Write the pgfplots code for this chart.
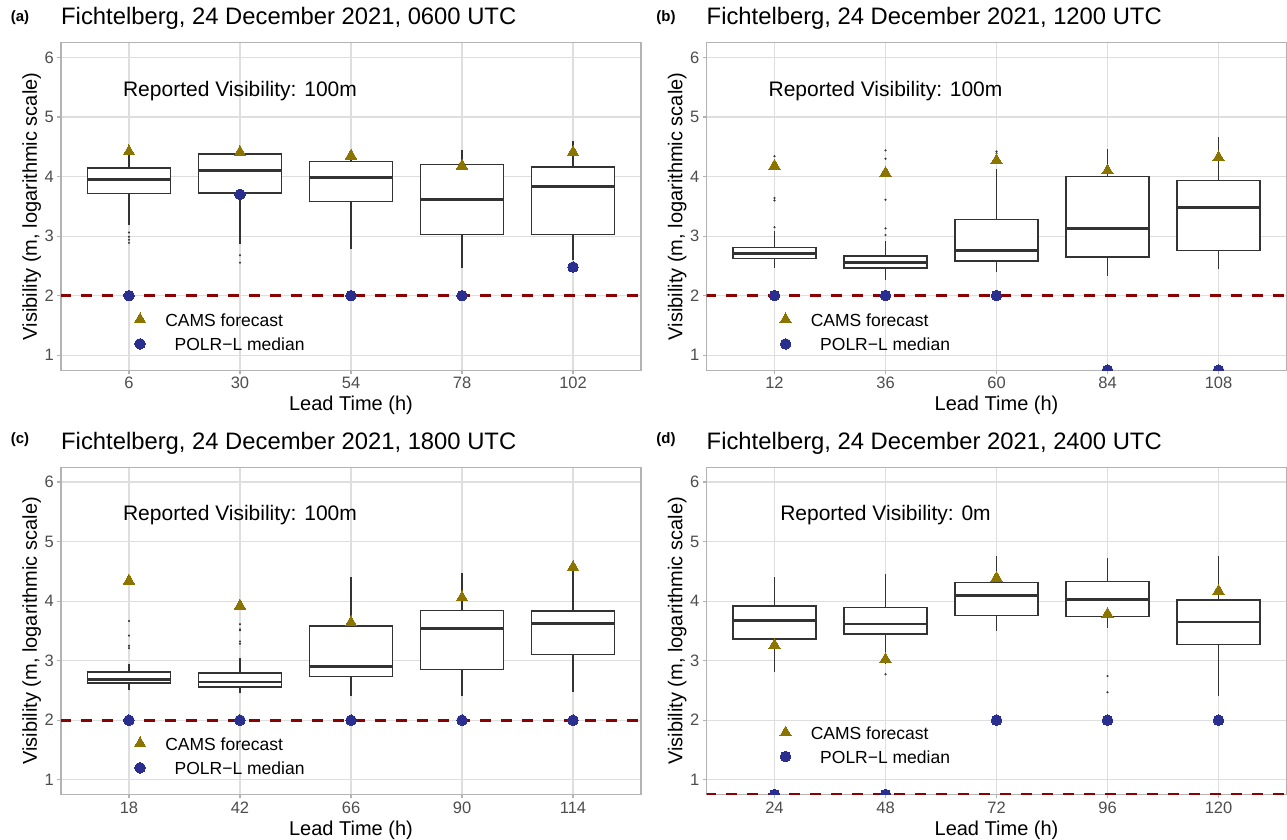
\documentclass[border=0pt]{standalone}
\usepackage{pgfplots}
\pgfplotsset{compat=1.18}
\usepgfplotslibrary{statistics}
\usepackage{fontspec}
\setmainfont{Liberation Sans}
\definecolor{camsc}{HTML}{8B7500}
\definecolor{polrc}{RGB}{42,46,142}
\definecolor{reflc}{HTML}{8B0000}
\definecolor{boxc}{HTML}{333333}
\definecolor{gridc}{HTML}{DEDEDE}
\definecolor{framec}{HTML}{B3B3B3}
\definecolor{tickc}{HTML}{4D4D4D}

\pgfplotsset{
 panel/.style={
  scale only axis, width=580pt, height=327.5pt,
  xmin=-0.6125, xmax=4.6125, ymin=0.75, ymax=6.25,
  xtick={0,1,2,3,4}, ytick={1,2,3,4,5,6}, yticklabels={1,2,3,4,5,6},
  tick align=outside, xtick pos=bottom, ytick pos=left,
  major tick length=3.7pt,
  tick style={framec, line width=1.1pt},
  xmajorgrids, ymajorgrids,
  grid style={gridc, line width=1.1pt},
  axis line style={framec, line width=1.1pt},
  ticklabel style={font=\fontsize{16.5}{18}\selectfont, text=tickc},
  label style={font=\fontsize{20}{22}\selectfont},
  xlabel={Lead Time (h)}, ylabel={Visibility (m, logarithmic scale)},
  xlabel style={at={(axis description cs:0.5,0)}, anchor=base, yshift=-40.5pt},
  ylabel style={at={(axis description cs:-0.0414,0.5)}, anchor=base},
  title style={at={(axis description cs:0,1)}, anchor=base west, yshift=12pt, font=\fontsize{23.8}{26}\selectfont, inner sep=0pt},
  clip marker paths=true,
  anchor=south west,
 },
 bxs/.style={draw=boxc, fill=white, line width=1.3pt, solid, mark=*, mark size=0.9pt,
   mark options={fill=boxc, draw=boxc, line width=0.3pt},
   boxplot/draw direction=y,
   boxplot/box extend=0.75, boxplot/whisker extend=0,
   boxplot/every box/.style={draw=boxc, fill=white, line width=1.5pt},
   boxplot/every whisker/.style={draw=boxc, line width=1.2pt},
   boxplot/every median/.style={draw=boxc, line width=2.8pt}},
 refline/.style={reflc, line width=3.2pt, dash pattern=on 11pt off 10pt},
 cams/.style={only marks, mark=triangle*, mark size=6.6pt, mark options={fill=camsc, draw=camsc, line width=0pt}},
 polr/.style={only marks, mark=*, mark size=5.3pt, mark options={fill=polrc, draw=polrc, line width=0pt}},
}
\newcommand{\bx}[7]{\addplot[bxs, boxplot prepared={draw position=#1, median=#2, lower quartile=#3, upper quartile=#4, lower whisker=#5, upper whisker=#6}] coordinates {#7};}
\newcommand{\annot}[1]{\node[font=\fontsize{21}{23}\selectfont, anchor=base, inner sep=0pt] at (axis cs:1,5.35) {#1};}
\newcommand{\legendtxt}[2]{%
  \node[font=\fontsize{17.5}{19}\selectfont, anchor=base west, inner sep=0pt] at (axis cs:0.325,#1) {CAMS forecast};
  \node[font=\fontsize{17.5}{19}\selectfont, anchor=base west, inner sep=0pt] at (axis cs:0.41,#2) {POLR−L median};}

\begin{document}
\begin{tikzpicture}
\path[use as bounding box] (0,0) rectangle (1287pt,839pt);

% (a)
\begin{axis}[panel, at={(61pt,468.9pt)}, xticklabels={6,30,54,78,102},
  title={Fichtelberg, 24 December 2021, 0600 UTC}]
\addplot[refline] coordinates {(-1,2) (5,2)};
\bx{0}{3.955}{3.714}{4.14}{3.19}{4.38}{(0,3.06) (0,2.99) (0,2.94) (0,2.89)}
\bx{1}{4.106}{3.725}{4.375}{2.86}{4.42}{(1,2.68) (1,2.555)}
\bx{2}{3.99}{3.585}{4.25}{2.78}{4.45}{}
\bx{3}{3.62}{3.03}{4.20}{2.47}{4.44}{}
\bx{4}{3.83}{3.03}{4.16}{2.60}{4.59}{}
\addplot[polr] coordinates {(0,2.0) (1,3.70) (2,2.0) (3,2.0) (4,2.48)};
\addplot[cams] coordinates {(0,4.42) (1,4.41) (2,4.35) (3,4.18) (4,4.41)};
\addplot[cams] coordinates {(0.1,1.60)};
\addplot[polr] coordinates {(0.1,1.19)};
\legendtxt{1.48}{1.075}
\annot{Reported Visibility: 100m}
\end{axis}

% (b)
\begin{axis}[panel, at={(706.5pt,468.9pt)}, xticklabels={12,36,60,84,108},
  title={Fichtelberg, 24 December 2021, 1200 UTC}]
\addplot[refline] coordinates {(-1,2) (5,2)};
\bx{0}{2.706}{2.62}{2.81}{2.46}{3.09}{(0,4.34) (0,3.64) (0,3.60) (0,3.15)}
\bx{1}{2.56}{2.465}{2.67}{2.26}{2.92}{(1,4.44) (1,4.30) (1,3.61) (1,3.13) (1,3.02)}
\bx{2}{2.76}{2.58}{3.28}{2.39}{4.12}{(2,4.39) (2,4.42)}
\bx{3}{3.126}{2.65}{4.0}{2.33}{4.465}{}
\bx{4}{3.485}{2.76}{3.93}{2.44}{4.67}{}
\addplot[polr] coordinates {(0,2.0) (1,2.0) (2,2.0) (3,0.75) (4,0.75)};
\addplot[cams] coordinates {(0,4.18) (1,4.06) (2,4.27) (3,4.10) (4,4.32)};
\addplot[cams] coordinates {(0.1,1.60)};
\addplot[polr] coordinates {(0.1,1.19)};
\legendtxt{1.48}{1.075}
\annot{Reported Visibility: 100m}
\end{axis}

% (c)
\begin{axis}[panel, at={(61pt,44.4pt)}, xticklabels={18,42,66,90,114},
  title={Fichtelberg, 24 December 2021, 1800 UTC}]
\addplot[refline] coordinates {(-1,2) (5,2)};
\bx{0}{2.687}{2.626}{2.81}{2.50}{2.94}{(0,3.665) (0,3.42) (0,3.25) (0,3.21)}
\bx{1}{2.64}{2.56}{2.79}{2.46}{3.04}{(1,3.61) (1,3.525) (1,3.51) (1,3.32) (1,3.285)}
\bx{2}{2.905}{2.73}{3.58}{2.41}{4.41}{}
\bx{3}{3.54}{2.855}{3.84}{2.40}{4.47}{}
\bx{4}{3.625}{3.10}{3.83}{2.475}{4.55}{}
\addplot[polr] coordinates {(0,2.0) (1,2.0) (2,2.0) (3,2.0) (4,2.0)};
\addplot[cams] coordinates {(0,4.34) (1,3.92) (2,3.64) (3,4.06) (4,4.57)};
\addplot[cams] coordinates {(0.1,1.61)};
\addplot[polr] coordinates {(0.1,1.20)};
\legendtxt{1.49}{1.085}
\annot{Reported Visibility: 100m}
\end{axis}

% (d)
\begin{axis}[panel, at={(706.5pt,44.4pt)}, xticklabels={24,48,72,96,120},
  title={Fichtelberg, 24 December 2021, 2400 UTC}]
\addplot[refline] coordinates {(-1,0.75) (5,0.75)};
\bx{0}{3.67}{3.36}{3.92}{2.81}{4.40}{}
\bx{1}{3.615}{3.45}{3.89}{2.95}{4.46}{(1,2.77)}
\bx{2}{4.095}{3.76}{4.31}{3.49}{4.75}{}
\bx{3}{4.02}{3.74}{4.33}{3.55}{4.73}{(3,2.74) (3,2.47)}
\bx{4}{3.65}{3.27}{4.02}{2.41}{4.75}{}
\addplot[polr] coordinates {(0,0.75) (1,0.75) (2,2.0) (3,2.0) (4,2.0)};
\addplot[cams] coordinates {(0,3.26) (1,3.02) (2,4.39) (3,3.78) (4,4.17)};
\addplot[cams] coordinates {(0.1,1.79)};
\addplot[polr] coordinates {(0.1,1.39)};
\legendtxt{1.68}{1.28}
\annot{Reported Visibility: 0m}
\end{axis}

\node[font=\bfseries\fontsize{15}{17}\selectfont] at (20pt,821pt) {(a)};
\node[font=\bfseries\fontsize{15}{17}\selectfont] at (666pt,821pt) {(b)};
\node[font=\bfseries\fontsize{15}{17}\selectfont] at (20pt,399pt) {(c)};
\node[font=\bfseries\fontsize{15}{17}\selectfont] at (666pt,399pt) {(d)};
\end{tikzpicture}
\end{document}
